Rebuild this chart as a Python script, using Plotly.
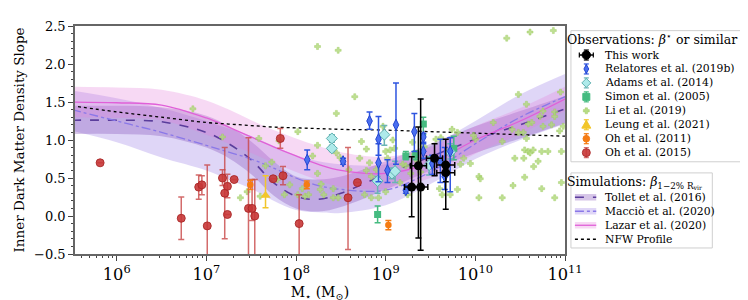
import numpy as np
import plotly.graph_objects as go

# ---------------- Simulation curves (log10 M*, slope) ----------------
sim_logm = [5.5, 6.0, 6.5, 7.0, 7.25, 7.5, 7.75, 8.0, 8.25, 8.5, 9.0, 9.5, 10.0, 10.5, 11.0]
tollet_mid = [1.26, 1.26, 1.24, 1.10, 0.95, 0.74, 0.44, 0.26, 0.22, 0.30, 0.55, 0.78, 1.01, 1.20, 1.41]
tollet_hi = [1.45, 1.45, 1.43, 1.32, 1.18, 0.98, 0.72, 0.52, 0.48, 0.52, 0.72, 0.95, 1.18, 1.38, 1.58]
tollet_lo = [1.08, 1.08, 1.05, 0.90, 0.76, 0.55, 0.27, 0.10, 0.06, 0.12, 0.35, 0.60, 0.83, 1.02, 1.22]
maccio_mid = [1.40, 1.25, 1.10, 0.93, 0.84, 0.75, 0.63, 0.50, 0.40, 0.35, 0.34, 0.58, 0.95, 1.30, 1.57]
maccio_hi = [1.65, 1.55, 1.42, 1.25, 1.15, 1.05, 0.92, 0.80, 0.72, 0.68, 0.68, 0.92, 1.25, 1.60, 1.87]
maccio_lo = [1.12, 0.97, 0.77, 0.60, 0.48, 0.36, 0.20, 0.08, 0.05, 0.04, 0.14, 0.42, 0.75, 1.00, 1.21]
lazar_mid = [1.50, 1.49, 1.46, 1.29, 1.17, 1.04, 0.91, 0.79, 0.68, 0.60, 0.56, 0.70, 1.00, 1.25, 1.54]
lazar_hi = [1.70, 1.69, 1.66, 1.52, 1.40, 1.26, 1.13, 1.02, 0.92, 0.84, 0.78, 0.90, 1.18, 1.42, 1.70]
lazar_lo = [1.30, 1.29, 1.26, 1.07, 0.95, 0.83, 0.70, 0.58, 0.47, 0.38, 0.36, 0.50, 0.82, 1.08, 1.38]
nfw = [1.45, 1.37, 1.30, 1.23, 1.21, 1.19, 1.17, 1.16, 1.15, 1.14, 1.13, 1.11, 1.09, 1.07, 1.05]

# ---------------- Observations ----------------
tw_logm = [9.29, 9.39, 9.365, 9.545, 9.67, 9.67]
tw_y = [0.38, 0.38, 0.66, 0.76, 0.67, 0.57]
tw_lo = [-0.01, -0.45, -0.29, 0.53, 0.09, 0.45]
tw_hi = [0.78, 1.54, 1.17, 0.95, 1.01, 0.70]
tw_dex = [0.08, 0.08, 0.09, 0.09, 0.10, 0.10]

rel_logm = [8.125, 8.525, 8.82, 8.92, 8.92, 9.02, 9.115, 9.225, 9.32, 9.42, 9.42, 9.52, 9.61, 9.66, 9.72]
rel_y = [0.74, 0.72, 1.25, 1.01, 0.70, 0.60, 1.20, 0.34, 1.11, 1.04, 0.85, 0.69, 0.72, 0.52, 0.85]
rel_lo = [0.61, 0.68, 1.14, 0.80, 0.45, 0.44, 0.68, 0.30, 0.85, 0.97, 0.76, 0.55, 0.44, 0.35, 0.32]
rel_hi = [0.87, 0.76, 1.37, 1.31, 0.95, 0.74, 1.75, 0.40, 1.35, 1.09, 0.95, 0.80, 1.01, 0.90, 1.03]

ad_logm = [8.40, 8.40, 8.985, 8.91, 9.07, 9.105, 9.485, 9.72]
ad_y = [1.02, 0.89, 1.07, 0.46, 0.56, 0.59, 0.67, 0.84]
ad_lo = [0.97, 0.85, 0.93, 0.30, 0.49, 0.44, 0.54, 0.75]
ad_hi = [1.07, 0.93, 1.19, 0.52, 0.63, 0.72, 0.78, 0.95]

si_logm = [8.91, 9.225, 9.335, 9.42, 9.76]
si_y = [0.02, 0.79, 0.80, 1.21, 0.89]
si_lo = [-0.09, 0.74, 0.74, 1.07, 0.74]
si_hi = [0.13, 0.85, 0.86, 1.30, 1.05]

li_logm = [6.85, 7.18, 7.38, 7.455, 7.585, 7.60, 7.66, 7.73, 7.79, 7.81, 7.87, 7.93, 8.02, 8.02, 8.07,
           8.10, 8.14, 8.185, 8.24, 8.24, 8.24, 8.27, 8.31, 8.47, 8.655, 8.45, 8.45, 8.49, 8.59, 8.28,
           8.415, 8.415, 8.47, 8.73, 8.785, 8.71, 8.82, 8.785, 8.84, 8.765, 8.84, 8.895, 8.92, 8.97, 9.0,
           9.02, 9.05, 9.08, 9.10, 9.0, 9.06, 9.16, 9.19, 9.225, 9.28, 9.30, 9.32, 9.245, 9.355, 9.39,
           9.43, 9.485, 9.56, 9.615, 9.63, 10.35, 10.61, 10.87, 10.48, 10.57, 10.20, 9.74, 9.80, 9.98, 10.57,
           10.55, 10.59, 10.74, 10.81, 10.44, 10.70, 10.65, 9.87, 9.835, 10.04, 10.055, 10.55, 10.42, 10.74, 10.04,
           10.30, 10.885, 9.72, 10.95, 10.885, 10.755, 10.63, 10.59, 10.755, 10.85, 10.98, 10.94, 10.72, 10.885, 10.41,
           10.48, 10.535, 10.0, 10.30, 10.61, 10.645, 10.96, 10.54, 9.945, 10.96, 9.60, 9.80]
li_y = [1.41, 1.04, 0.24, 0.32, 1.02, 0.26, 0.66, 0.71, 0.48, 0.99, 0.28, 0.41, 1.11, 0.28, 0.36,
        0.26, 0.28, 0.79, 0.93, 2.23, 0.56, 0.35, 0.28, 2.18, 1.57, 1.35, 0.83, 0.77, 0.61, 0.42,
        0.36, 0.24, 0.24, 0.98, 0.88, 0.76, 0.70, 0.60, 0.52, 0.28, 0.24, 0.61, 0.24, 1.18, 0.85,
        0.76, 0.87, 1.00, 0.89, 0.32, 0.58, 0.44, 0.68, 0.66, 0.56, 0.97, 0.81, 0.28, 0.72, 0.58,
        0.91, 0.68, 1.01, 1.03, 0.28, 2.34, 2.42, 2.44, 1.60, 1.47, 1.23, 1.14, 1.10, 1.06, 1.02,
        0.87, 0.85, 0.85, 0.85, 0.76, 0.72, 0.65, 0.76, 0.68, 0.52, 0.49, 0.51, 0.40, 0.36, 0.24,
        0.24, 0.24, 0.28, 1.63, 1.31, 1.38, 1.23, 1.21, 1.18, 1.20, 1.18, 1.12, 1.31, 1.37, 1.14,
        1.10, 1.10, 1.01, 0.98, 0.83, 0.87, 0.85, 0.76, 0.69, 0.44, 0.36, 0.35]

le_logm = [7.66]
le_y = [0.27]
le_lo = [0.11]
le_hi = [0.53]

oh11_logm = [7.49, 8.12, 9.03]
oh11_y = [0.41, 0.41, -0.12]
oh11_lo = [0.35, 0.36, -0.18]
oh11_hi = [0.47, 0.46, -0.06]

oh15_logm = [5.815, 6.72, 6.915, 6.95, 7.01, 7.18, 7.205, 7.235, 7.235, 7.31, 7.47, 7.51, 7.54, 7.745,
             7.825, 7.855, 8.035, 8.58, 8.685]
oh15_y = [0.70, -0.03, 0.38, 0.41, -0.13, 0.50, 0.30, 0.39, 0.02, 0.48, 0.10, 0.10, 0.00, 0.49,
          1.02, 0.53, -0.10, 0.24, 0.44]
oh15_lo = [0.70, -0.31, 0.22, 0.28, -0.70, 0.40, -0.30, 0.24, 0.02, 0.48, -0.70, -0.06, -0.70, 0.49,
           0.89, 0.41, -0.70, -0.44, 0.44]
oh15_hi = [0.70, 0.25, 0.54, 0.53, 0.67, 0.61, 0.90, 0.55, 0.02, 0.48, 1.03, 0.48, 0.48, 0.49,
           1.15, 0.65, 0.28, 0.90, 0.44]

OBS_TITLE = "Observations: <i>β</i><sup>⋆</sup> or similar"
SIM_TITLE = "Simulations: <i>β</i><sub>1−2% R<sub>vir</sub></sub>"

FONT = "DejaVu Serif"
fig = go.Figure()

# plot-area geometry (pixels) used to place the hand-drawn legend boxes
PL, PR, PT, PB = 63, 557, 11, 257


def PX(p):
    return (p - PL) / (PR - PL)


def PY(p):
    return (PB - p) / (PB - PT)


def lin(logm):
    return 10 ** np.array(logm, dtype=float)


def err(y, lo, hi, color, thick=1.5, width=3):
    y = np.array(y); lo = np.array(lo); hi = np.array(hi)
    return dict(type="data", symmetric=False, array=hi - y, arrayminus=y - lo,
                color=color, thickness=thick, width=width)


# ---- styles ----
TOLLET = dict(name="Tollet et al. (2016)", band="rgba(130,80,185,0.33)", color="#5b3d9c", width=1.6, dash="dash")
MACCIO = dict(name="Macciò et al. (2020)", band="rgba(150,120,230,0.30)", color="#8a78e8", width=1.3, dash="dashdot")
LAZAR = dict(name="Lazar et al. (2020)", band="rgba(230,130,220,0.30)", color="#e060d8", width=1.3, dash="solid")
NFW = dict(name="NFW Profile", band=None, color="black", width=1.3, dash="dot")


def add_band(lo, hi, color):
    x = lin(sim_logm)
    fig.add_trace(go.Scatter(x=x, y=hi, mode="lines", line=dict(width=0, shape="spline"), hoverinfo="skip"))
    fig.add_trace(go.Scatter(x=x, y=lo, mode="lines", line=dict(width=0, shape="spline"),
                             fill="tonexty", fillcolor=color, hoverinfo="skip"))


add_band(maccio_lo, maccio_hi, MACCIO["band"])
add_band(tollet_lo, tollet_hi, TOLLET["band"])
add_band(lazar_lo, lazar_hi, LAZAR["band"])

xs = lin(sim_logm)
for st, yv in [(TOLLET, tollet_mid), (MACCIO, maccio_mid), (LAZAR, lazar_mid), (NFW, nfw)]:
    fig.add_trace(go.Scatter(x=xs, y=yv, mode="lines", name=st["name"],
                             line=dict(color=st["color"], width=st["width"], dash=st["dash"], shape="spline")))

obs = [
    dict(name="This work", logm=tw_logm, y=tw_y, lo=tw_lo, hi=tw_hi,
         marker=dict(symbol="circle", size=9, color="black"), ecol="black",
         glyph=("circle", 4.2, "black", "black"), xerr=True),
    dict(name="Relatores et al. (2019b)", logm=rel_logm, y=rel_y, lo=rel_lo, hi=rel_hi,
         marker=dict(symbol="diamond-tall", size=8, color="#4a6ff0", line=dict(width=1, color="#2345d0")),
         ecol="#2f55e0", glyph=("thin", 4, "#4a6ff0", "#2345d0")),
    dict(name="Adams et al. (2014)", logm=ad_logm, y=ad_y, lo=ad_lo, hi=ad_hi,
         marker=dict(symbol="diamond", size=8.5, color="#aeeaea", line=dict(width=1, color="#5fb0b0")),
         ecol="#6ab4b4", glyph=("diamond", 4.5, "#aeeaea", "#5fb0b0")),
    dict(name="Simon et al. (2005)", logm=si_logm, y=si_y, lo=si_lo, hi=si_hi,
         marker=dict(symbol="square", size=7, color="#45bb80"),
         ecol="#45bb80", glyph=("square", 3.5, "#45bb80", "#45bb80")),
    dict(name="Li et al. (2019)", logm=li_logm, y=li_y, lo=None, hi=None,
         marker=dict(symbol="cross", size=5, color="rgba(175,216,120,0.8)",
                     line=dict(width=0.5, color="rgba(160,205,100,0.9)")),
         ecol=None, glyph=("cross", 3, "rgba(175,216,120,0.9)", "rgba(160,205,100,0.9)")),
    dict(name="Leung et al. (2021)", logm=le_logm, y=le_y, lo=le_lo, hi=le_hi,
         marker=dict(symbol="triangle-up", size=9, color="#f2c62a"),
         ecol="#f2c62a", glyph=("triangle", 4.5, "#f2c62a", "#f2c62a")),
    dict(name="Oh et al. (2011)", logm=oh11_logm, y=oh11_y, lo=oh11_lo, hi=oh11_hi,
         marker=dict(symbol="circle", size=6.5, color="#f57c13"),
         ecol="#f57c13", glyph=("circle", 3.3, "#f57c13", "#f57c13")),
    dict(name="Oh et al. (2015)", logm=oh15_logm, y=oh15_y, lo=oh15_lo, hi=oh15_hi,
         marker=dict(symbol="circle", size=8, color="rgba(200,55,55,0.9)", line=dict(width=1, color="rgba(170,40,40,0.9)")),
         ecol="rgba(200,70,70,0.8)", glyph=("circle", 4, "rgba(200,55,55,0.9)", "rgba(170,40,40,0.9)")),
]

draw_order = ["Li et al. (2019)", "Oh et al. (2015)", "Oh et al. (2011)", "Leung et al. (2021)",
              "Simon et al. (2005)", "Adams et al. (2014)", "Relatores et al. (2019b)", "This work"]
by_name = {o["name"]: o for o in obs}
for nm in draw_order:
    o = by_name[nm]
    x = lin(o["logm"])
    kw = dict(x=x, y=o["y"], mode="markers", name=nm, marker=o["marker"])
    if o["lo"] is not None:
        kw["error_y"] = err(o["y"], o["lo"], o["hi"], o["ecol"])
    if o.get("xerr"):
        d = np.array(tw_dex)
        kw["error_x"] = dict(type="data", symmetric=False, array=x * (10 ** d - 1),
                             arrayminus=x * (1 - 10 ** (-d)), color="black", thickness=1.5, width=3)
    fig.add_trace(go.Scatter(**kw))

# ---------------- hand-made legends (two boxes) ----------------
shapes = []
annotations = []
box = dict(type="rect", xref="paper", yref="paper", layer="above",
           line=dict(color="#cfcfcf", width=1), fillcolor="white")
shapes.append(dict(x0=PX(563), x1=PX(742.5), y0=PY(16), y1=PY(157.5), **box))
shapes.append(dict(x0=PX(563), x1=PX(705.5), y0=PY(169.5), y1=PY(250.5), **box))


def pshape(kind, cx, cy, **kw):
    d = dict(type=kind, xref="paper", yref="paper", layer="above",
             xsizemode="pixel", ysizemode="pixel", xanchor=PX(cx), yanchor=PY(cy))
    d.update(kw)
    return d


def text(x, y, s, size, xshift=0):
    annotations.append(dict(x=PX(x), y=PY(y), xref="paper", yref="paper", text=s, showarrow=False,
                            xanchor="left", yanchor="middle", xshift=xshift,
                            font=dict(family=FONT, size=size, color="black")))


ITEM_SIZE = 10.8
text(566, 25.5, OBS_TITLE, 12.5, xshift=-9)
GX = 578.5
for i, o in enumerate(obs):
    cy = 42.3 + i * 15.05
    text(595, cy, o["name"], ITEM_SIZE)
    kind, r, fc, lc = o["glyph"]
    if o["lo"] is not None:
        shapes.append(pshape("line", GX, cy, x0=0, x1=0, y0=-5, y1=5, line=dict(color=o["ecol"], width=1.5)))
        for yy in (-5, 5):
            shapes.append(pshape("line", GX, cy, x0=-2.5, x1=2.5, y0=yy, y1=yy, line=dict(color=o["ecol"], width=1.2)))
    if o.get("xerr"):
        shapes.append(pshape("line", GX, cy, x0=-7, x1=7, y0=0, y1=0, line=dict(color="black", width=1.5)))
        for xx in (-7, 7):
            shapes.append(pshape("line", GX, cy, x0=xx, x1=xx, y0=-2.5, y1=2.5, line=dict(color="black", width=1.2)))
    ln = dict(color=lc, width=1)
    if kind == "circle":
        shapes.append(pshape("circle", GX, cy, x0=-r, x1=r, y0=-r, y1=r, fillcolor=fc, line=ln))
    elif kind == "square":
        shapes.append(pshape("rect", GX, cy, x0=-r, x1=r, y0=-r, y1=r, fillcolor=fc, line=ln))
    elif kind == "thin":
        shapes.append(pshape("path", GX, cy, path=f"M 0 {r+0.5} L 2.4 0 L 0 {-r-0.5} L -2.4 0 Z", fillcolor=fc, line=ln))
    elif kind == "diamond":
        shapes.append(pshape("path", GX, cy, path=f"M 0 {r} L {r} 0 L 0 {-r} L {-r} 0 Z", fillcolor=fc, line=ln))
    elif kind == "triangle":
        shapes.append(pshape("path", GX, cy, path=f"M 0 {r} L {r} {-r*0.75} L {-r} {-r*0.75} Z", fillcolor=fc, line=ln))
    elif kind == "cross":
        a, b = 1.2, r
        shapes.append(pshape("path", GX, cy,
                             path=(f"M {-a} {b} L {a} {b} L {a} {a} L {b} {a} L {b} {-a} L {a} {-a} L {a} {-b} "
                                   f"L {-a} {-b} L {-a} {-a} L {-b} {-a} L {-b} {a} L {-a} {a} Z"),
                             fillcolor=fc, line=dict(color=lc, width=0.5)))

text(566, 179.5, SIM_TITLE, 12.5, xshift=-9)
sims = [TOLLET, MACCIO, LAZAR, NFW]
for i, st in enumerate(sims):
    cy = 195.8 + i * 15.1
    text(595, cy, st["name"], ITEM_SIZE)
    if st["band"] is not None:
        shapes.append(dict(type="rect", xref="paper", yref="paper", layer="above",
                           x0=PX(567), x1=PX(588.5), y0=PY(cy + 3.5), y1=PY(cy - 3.5),
                           fillcolor=st["band"], line=dict(width=0)))
    shapes.append(dict(type="line", xref="paper", yref="paper", layer="above",
                       x0=PX(567), x1=PX(588.5), y0=PY(cy), y1=PY(cy),
                       line=dict(color=st["color"], width=st["width"], dash=st["dash"])))

axis_common = dict(showline=True, mirror=True, linecolor="#666", linewidth=1.5,
                   ticks="outside", tickcolor="#444", ticklen=5, showgrid=False, zeroline=False,
                   tickfont=dict(family=FONT, size=13, color="black"))

fig.update_layout(
    width=748, height=300,
    margin=dict(l=PL, r=748 - PR, t=PT, b=300 - PB),
    plot_bgcolor="white", paper_bgcolor="white",
    font=dict(family=FONT, color="black"),
    showlegend=False,
    xaxis=dict(type="log", range=[5.535, 11], dtick=1, exponentformat="power", showexponent="all",
               minor=dict(ticks="outside", ticklen=2.5, dtick="D1", tickcolor="#444"),
               title=dict(text="M<sub>⋆</sub> (M<sub>⊙</sub>)", font=dict(family=FONT, size=14), standoff=4),
               **axis_common),
    yaxis=dict(range=[-0.5, 2.5], dtick=0.5, tickformat=".1f",
               minor=dict(ticks="outside", ticklen=2.5, dtick=0.1, tickcolor="#444"),
               title=dict(text="Inner Dark Matter Density Slope", font=dict(family=FONT, size=13.5), standoff=6),
               **axis_common),
    shapes=shapes,
    annotations=annotations,
)

fig.write_html("out.html")
